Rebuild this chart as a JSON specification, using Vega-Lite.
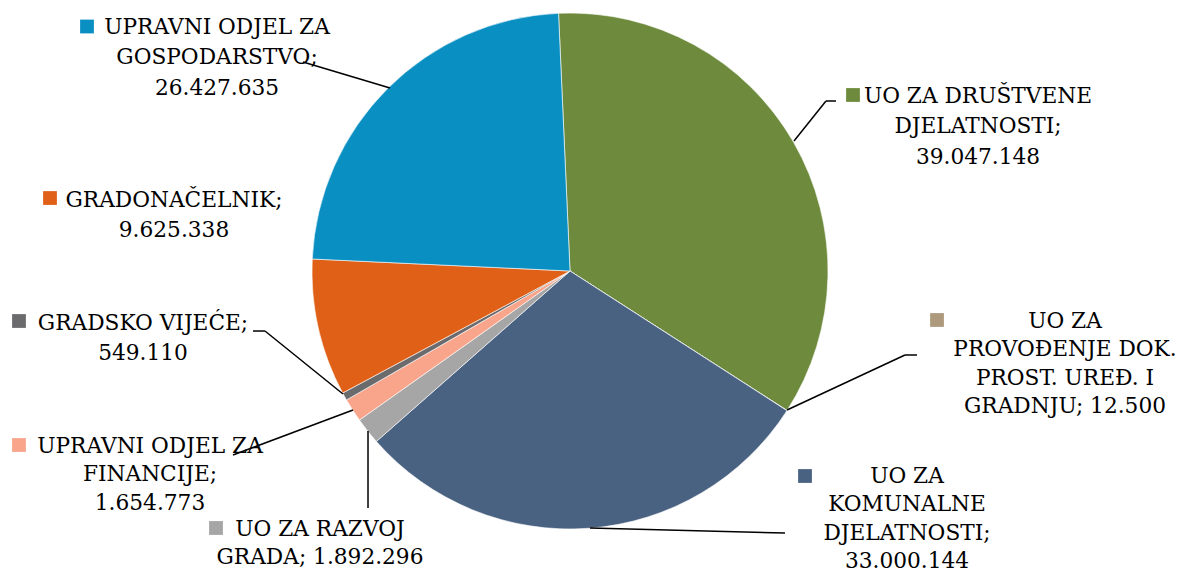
{
  "$schema": "https://vega.github.io/schema/vega-lite/v6.json",
  "width": 1140,
  "height": 542,
  "autosize": {"type": "none"},
  "padding": {"left": 0, "top": 0, "right": 38, "bottom": 30},
  "background": "white",
  "config": {"view": {"stroke": null}},
  "datasets": {
    "slices": [
      {"idx": 1, "name": "UO ZA DRUŠTVENE DJELATNOSTI", "value": 39047148, "label": "UO ZA DRUŠTVENE\nDJELATNOSTI;\n39.047.148", "lx": 158.14, "ly": 65.12, "kx": 109.69, "ky": 68.22},
      {"idx": 2, "name": "UO ZA PROVOĐENJE DOK. PROST. UREĐ. I GRADNJU", "value": 12500, "label": "UO ZA\nPROVOĐENJE DOK.\nPROST. UREĐ. I\nGRADNJU; 12.500", "lx": 191.86, "ly": -22.09, "kx": 142.25, "ky": -18.99},
      {"idx": 3, "name": "UO ZA KOMUNALNE DJELATNOSTI", "value": 33000144, "label": "UO ZA\nKOMUNALNE\nDJELATNOSTI;\n33.000.144", "lx": 130.62, "ly": -82.17, "kx": 91.09, "ky": -79.46},
      {"idx": 4, "name": "UO ZA RAZVOJ GRADA", "value": 1892296, "label": "UO ZA RAZVOJ\nGRADA; 1.892.296", "lx": -96.9, "ly": -102.71, "kx": -137.21, "ky": -99.61},
      {"idx": 5, "name": "UPRAVNI ODJEL ZA FINANCIJE", "value": 1654773, "label": "UPRAVNI ODJEL ZA\nFINANCIJE;\n1.654.773", "lx": -162.79, "ly": -70.54, "kx": -213.57, "ky": -67.44},
      {"idx": 6, "name": "GRADSKO VIJEĆE", "value": 549110, "label": "GRADSKO VIJEĆE;\n549.110", "lx": -165.5, "ly": -22.87, "kx": -213.57, "ky": -19.38},
      {"idx": 7, "name": "GRADONAČELNIK", "value": 9625338, "label": "GRADONAČELNIK;\n9.625.338", "lx": -153.49, "ly": 24.81, "kx": -201.55, "ky": 28.29},
      {"idx": 8, "name": "UPRAVNI ODJEL ZA GOSPODARSTVO", "value": 26427635, "label": "UPRAVNI ODJEL ZA\nGOSPODARSTVO;\n26.427.635", "lx": -136.82, "ly": 91.86, "kx": -187.21, "ky": 94.77}
    ],
    "leaders": [
      {"name": "GOSPODARSTVO", "x1": -103.49, "y1": 81.01, "x2": -69.77, "y2": 70.93},
      {"name": "DRUŠTVENE a", "x1": 103.1, "y1": 65.89, "x2": 99.22, "y2": 65.89},
      {"name": "DRUŠTVENE b", "x1": 99.22, "y1": 65.89, "x2": 86.82, "y2": 50.39},
      {"name": "PROVOĐENJE a", "x1": 134.5, "y1": -32.56, "x2": 129.84, "y2": -32.56},
      {"name": "PROVOĐENJE b", "x1": 129.84, "y1": -32.56, "x2": 84.11, "y2": -53.88},
      {"name": "KOMUNALNE", "x1": 7.75, "y1": -99.61, "x2": 83.33, "y2": -101.55},
      {"name": "RAZVOJ", "x1": -78.29, "y1": -62.02, "x2": -78.29, "y2": -91.86},
      {"name": "FINANCIJE", "x1": -130.62, "y1": -71.32, "x2": -84.11, "y2": -53.88},
      {"name": "VIJEĆE a", "x1": -122.87, "y1": -23.26, "x2": -118.22, "y2": -23.26},
      {"name": "VIJEĆE b", "x1": -118.22, "y1": -23.26, "x2": -87.98, "y2": -47.67}
    ]
  },
  "layer": [
    {
      "data": {"name": "slices"},
      "mark": {"type": "arc", "outerRadius": 258, "stroke": "white", "strokeWidth": 0.6},
      "encoding": {
        "theta": {"field": "value", "type": "quantitative", "stack": true, "scale": {"range": [-0.0445, 6.2387]}},
        "order": {"field": "idx", "type": "quantitative"},
        "color": {
          "field": "name", "type": "nominal", "legend": null,
          "scale": {
            "domain": ["UO ZA DRUŠTVENE DJELATNOSTI", "UO ZA PROVOĐENJE DOK. PROST. UREĐ. I GRADNJU", "UO ZA KOMUNALNE DJELATNOSTI", "UO ZA RAZVOJ GRADA", "UPRAVNI ODJEL ZA FINANCIJE", "GRADSKO VIJEĆE", "GRADONAČELNIK", "UPRAVNI ODJEL ZA GOSPODARSTVO"],
            "range": ["#6E8B3D", "#AD9A7C", "#4A6282", "#A6A6A6", "#F8A58C", "#6B6B6E", "#E06017", "#0A8FC2"]
          }
        }
      }
    },
    {
      "data": {"name": "leaders"},
      "mark": {"type": "rule", "color": "black", "strokeWidth": 1.5},
      "encoding": {
        "x": {"field": "x1", "type": "quantitative", "axis": null, "scale": {"domain": [-220.93, 220.93], "nice": false, "zero": false}},
        "y": {"field": "y1", "type": "quantitative", "axis": null, "scale": {"domain": [-105.04, 105.04], "nice": false, "zero": false}},
        "x2": {"field": "x2"},
        "y2": {"field": "y2"}
      }
    },
    {
      "data": {"name": "slices"},
      "transform": [{"filter": "datum.idx >= 2 && datum.idx <= 5"}],
      "mark": {"type": "text", "lineBreak": "\n", "lineHeight": 28.3, "fontSize": 21.7, "align": "center", "baseline": "alphabetic", "font": "DejaVu Serif", "color": "black"},
      "encoding": {
        "x": {"field": "lx", "type": "quantitative"},
        "y": {"field": "ly", "type": "quantitative"},
        "text": {"field": "label"}
      }
    },
    {
      "data": {"name": "slices"},
      "transform": [{"filter": "datum.idx < 2 || datum.idx > 5"}],
      "mark": {"type": "text", "lineBreak": "\n", "lineHeight": 30.3, "fontSize": 21.7, "align": "center", "baseline": "alphabetic", "font": "DejaVu Serif", "color": "black"},
      "encoding": {
        "x": {"field": "lx", "type": "quantitative"},
        "y": {"field": "ly", "type": "quantitative"},
        "text": {"field": "label"}
      }
    },
    {
      "data": {"name": "slices"},
      "mark": {"type": "point", "shape": "square", "filled": true, "size": 190, "opacity": 1},
      "encoding": {
        "x": {"field": "kx", "type": "quantitative"},
        "y": {"field": "ky", "type": "quantitative"},
        "color": {"field": "name", "type": "nominal", "legend": null}
      }
    }
  ]
}
